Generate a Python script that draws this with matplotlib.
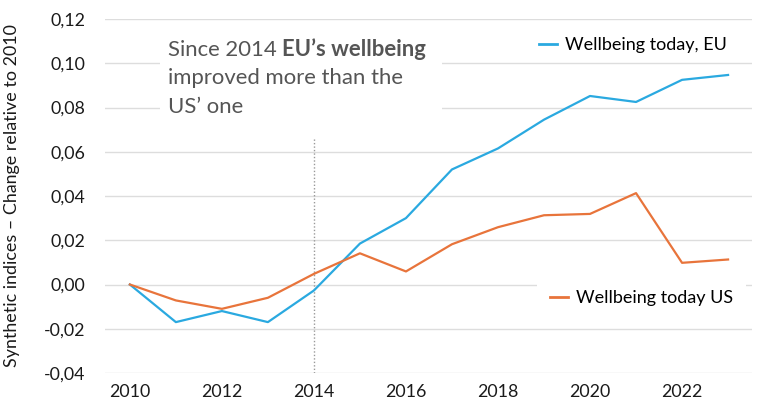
import matplotlib
matplotlib.use("Agg")
import matplotlib.pyplot as plt
from matplotlib.lines import Line2D
from matplotlib.patches import Rectangle

years = list(range(2010, 2024))
eu = [0.0, -0.017, -0.012, -0.017, -0.0027, 0.0185, 0.030, 0.052, 0.0615, 0.0745,
      0.0852, 0.0825, 0.0925, 0.0947]
us = [0.0, -0.0072, -0.011, -0.006, 0.0048, 0.0141, 0.0059, 0.0182, 0.0259, 0.0313,
      0.0319, 0.0413, 0.0098, 0.0113]
yticks = [-0.04, -0.02, 0.0, 0.02, 0.04, 0.06, 0.08, 0.10, 0.12]
xticks = [2010, 2012, 2014, 2016, 2018, 2020, 2022]
eu_label = "Wellbeing today, EU"
us_label = "Wellbeing today US"
ylabel = "Synthetic indices – Change relative to 2010"

EU_C = "#2aa9e0"
US_C = "#e8743b"
FONT = ["Lato", "DejaVu Sans"]
plt.rcParams["font.family"] = FONT

W, H = 762, 418
fig = plt.figure(figsize=(W / 100, H / 100), dpi=100)
ax = fig.add_axes([105 / W, (H - 373) / H, 647 / W, 354 / H])
ax.set_xlim(2009.46, 2023.52)
ax.set_ylim(-0.04, 0.12)
for s in ax.spines.values():
    s.set_visible(False)
ax.set_yticks(yticks)
ax.set_yticklabels([f"{v:.2f}".replace(".", ",") for v in yticks])
ax.set_xticks(xticks)
ax.set_xticklabels([str(x) for x in xticks])
ax.tick_params(length=0, labelsize=12.8, colors="#1a1a1a")
ax.tick_params(axis="y", pad=14)
ax.tick_params(axis="x", pad=8)
ax.grid(axis="y", color="#dddddd", lw=1)
ax.set_axisbelow(True)

ax.vlines(2014, -0.04, 0.066, color="#999999", lw=1, linestyles=(0, (1, 1.5)), zorder=1)

ax.plot(years, eu, color=EU_C, lw=1.6, zorder=3)
ax.plot(years, us, color=US_C, lw=1.6, zorder=3)

ax.set_ylabel(ylabel, fontsize=12.9, color="#1a1a1a")
ax.yaxis.set_label_coords((20 - 105) / 647, 0.5)

# annotation box
fig.patches.append(Rectangle((160 / W, (H - 130) / H), 282 / W, 100 / H,
                             transform=fig.transFigure, facecolor="white",
                             edgecolor="none", zorder=2))
tcol = "#555555"
fs = 15.9
t1 = fig.text(168 / W, (H - 56) / H, "Since 2014 ", fontsize=fs, color=tcol,
              va="baseline", ha="left", zorder=5)
fig.text(168 / W, (H - 84.5) / H, "improved more than the", fontsize=fs, color=tcol,
         va="baseline", ha="left", zorder=5)
fig.text(168 / W, (H - 113) / H, "US’ one", fontsize=fs, color=tcol,
         va="baseline", ha="left", zorder=5)
fig.canvas.draw()
bb = t1.get_window_extent(renderer=fig.canvas.get_renderer())
fig.text(bb.x1 / W, (H - 56) / H, "EU’s wellbeing", fontsize=fs, color=tcol,
         fontweight="bold", va="baseline", ha="left", zorder=5)

# legends
h1 = [Line2D([], [], color=EU_C, lw=2)]
leg1 = fig.legend(h1, [eu_label], loc="center left",
                  bbox_to_anchor=(532 / W, (H - 45) / H), frameon=True,
                  fontsize=13, handlelength=1.0, handletextpad=0.45,
                  borderpad=0.4, borderaxespad=0)
leg1.get_frame().set_edgecolor("none")
leg1.get_frame().set_facecolor("white")
leg1.get_frame().set_alpha(1)
h2 = [Line2D([], [], color=US_C, lw=2)]
leg2 = fig.legend(h2, [us_label], loc="center left",
                  bbox_to_anchor=(537 / W, (H - 298) / H), frameon=True,
                  fontsize=13, handlelength=1.0, handletextpad=0.45,
                  borderpad=0.7, borderaxespad=0)
leg2.get_frame().set_edgecolor("none")
leg2.get_frame().set_facecolor("white")
leg2.get_frame().set_alpha(1)

fig.savefig("out.png", dpi=100)
